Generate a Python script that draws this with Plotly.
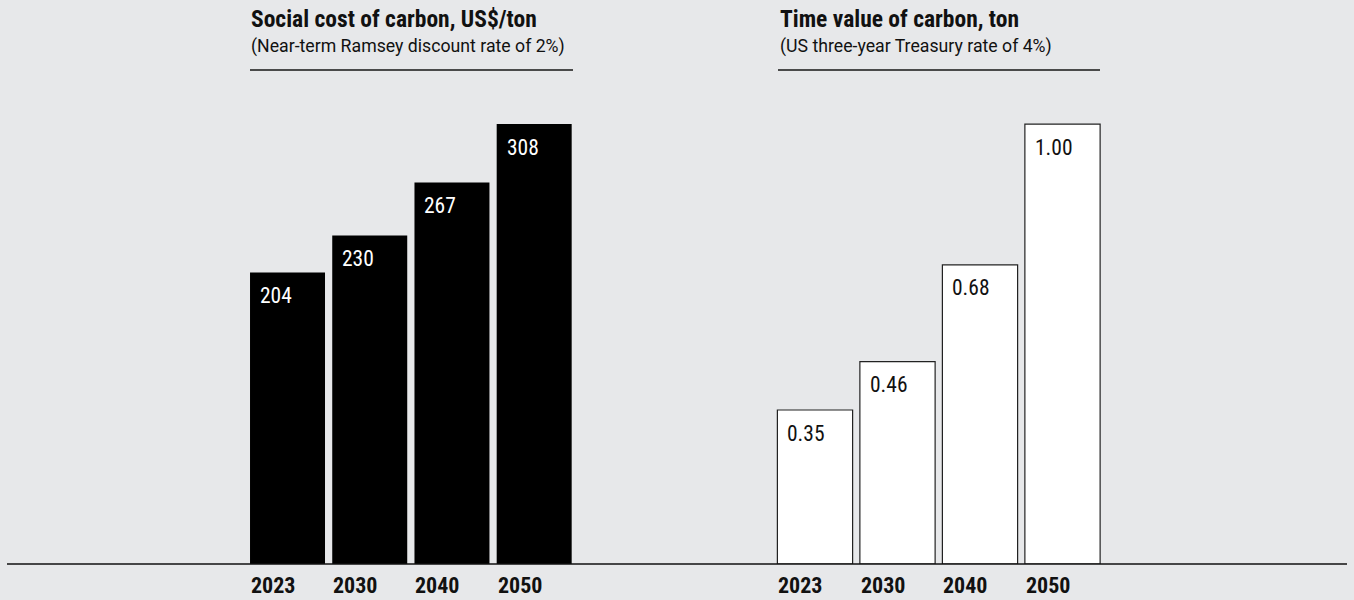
import plotly.graph_objects as go

years = ["2023", "2030", "2040", "2050"]
social_cost = [204, 230, 267, 308]
social_cost_labels = ["204", "230", "267", "308"]
time_value = [0.35, 0.46, 0.68, 1.00]
time_value_labels = ["0.35", "0.46", "0.68", "1.00"]

left_title = "Social cost of carbon, US$/ton"
left_sub = "(Near-term Ramsey discount rate of 2%)"
right_title = "Time value of carbon, ton"
right_sub = "(US three-year Treasury rate of 4%)"

W, H = 1354, 600
BG = "#e7e8ea"
FONT = "Roboto Condensed, Liberation Sans Narrow, DejaVu Sans Condensed, sans-serif"
SUBFONT = "Roboto, Liberation Sans, sans-serif"
BAR_W = 0.912

def px(x):
    return x / W

def py(y):
    return (H - y) / H

xs = list(range(len(years)))

fig = go.Figure()
fig.add_trace(go.Bar(x=xs, y=social_cost, width=BAR_W, marker=dict(color="#000000", line=dict(width=0)),
                     xaxis="x", yaxis="y", hoverinfo="skip"))
fig.add_trace(go.Bar(x=xs, y=time_value, width=BAR_W,
                     marker=dict(color="#ffffff", line=dict(color="#222222", width=1.2)),
                     xaxis="x2", yaxis="y2", hoverinfo="skip"))

base_px = 564
top_px = 92.6
ymax_left = 330
ymax_right = 330 / 308

ann = []
for i, (v, lab) in enumerate(zip(social_cost, social_cost_labels)):
    ann.append(dict(x=i - BAR_W / 2, y=v, xref="x", yref="y", text=lab, showarrow=False,
                    xanchor="left", yanchor="middle", xshift=8, yshift=-23,
                    font=dict(family=FONT, size=21.5, color="#ffffff")))
for i, (v, lab) in enumerate(zip(time_value, time_value_labels)):
    ann.append(dict(x=i - BAR_W / 2, y=v, xref="x2", yref="y2", text=lab, showarrow=False,
                    xanchor="left", yanchor="middle", xshift=8, yshift=-23,
                    font=dict(family=FONT, size=21.5, color="#111111")))
for ax in ["x", "x2"]:
    for i, yr in enumerate(years):
        ann.append(dict(x=i - BAR_W / 2, y=py(585), xref=ax, yref="paper", text="<b>" + yr + "</b>",
                        showarrow=False, xanchor="left", yanchor="middle", xshift=-1,
                        font=dict(family=FONT, size=22, color="#111111")))

for x0, t, s in [(248.5, left_title, left_sub), (777.5, right_title, right_sub)]:
    ann.append(dict(x=px(x0), y=py(19.5), xref="paper", yref="paper", text="<b>" + t + "</b>",
                    showarrow=False, xanchor="left", yanchor="middle",
                    font=dict(family=FONT, size=23.5, color="#111111")))
    ann.append(dict(x=px(x0), y=py(46), xref="paper", yref="paper", text=s,
                    showarrow=False, xanchor="left", yanchor="middle",
                    font=dict(family=SUBFONT, size=17.7, color="#111111")))

shapes = [
    dict(type="line", xref="paper", yref="paper", x0=px(7), x1=px(1347), y0=py(base_px), y1=py(base_px),
         line=dict(color="#111111", width=1.5), layer="above"),
    dict(type="line", xref="paper", yref="paper", x0=px(250), x1=px(573), y0=py(70), y1=py(70),
         line=dict(color="#4a4a4a", width=2)),
    dict(type="line", xref="paper", yref="paper", x0=px(778), x1=px(1100), y0=py(70), y1=py(70),
         line=dict(color="#4a4a4a", width=2)),
]

fig.update_layout(
    width=W, height=H, margin=dict(l=0, r=0, t=0, b=0),
    paper_bgcolor=BG, plot_bgcolor=BG, showlegend=False,
    xaxis=dict(domain=[px(246.4), px(575.3)], range=[-0.5, 3.5], visible=False, fixedrange=True),
    yaxis=dict(domain=[py(base_px), py(top_px)], range=[0, ymax_left], visible=False, fixedrange=True),
    xaxis2=dict(domain=[px(773.75), px(1103.75)], range=[-0.5, 3.5], visible=False, fixedrange=True,
                anchor="y2"),
    yaxis2=dict(domain=[py(base_px), py(top_px)], range=[0, ymax_right], visible=False, fixedrange=True,
                anchor="x2"),
    annotations=ann, shapes=shapes,
)

fig.write_html("out.html", config={"displayModeBar": False},
               post_script="document.body.style.margin='0';document.body.style.overflow='hidden';")
